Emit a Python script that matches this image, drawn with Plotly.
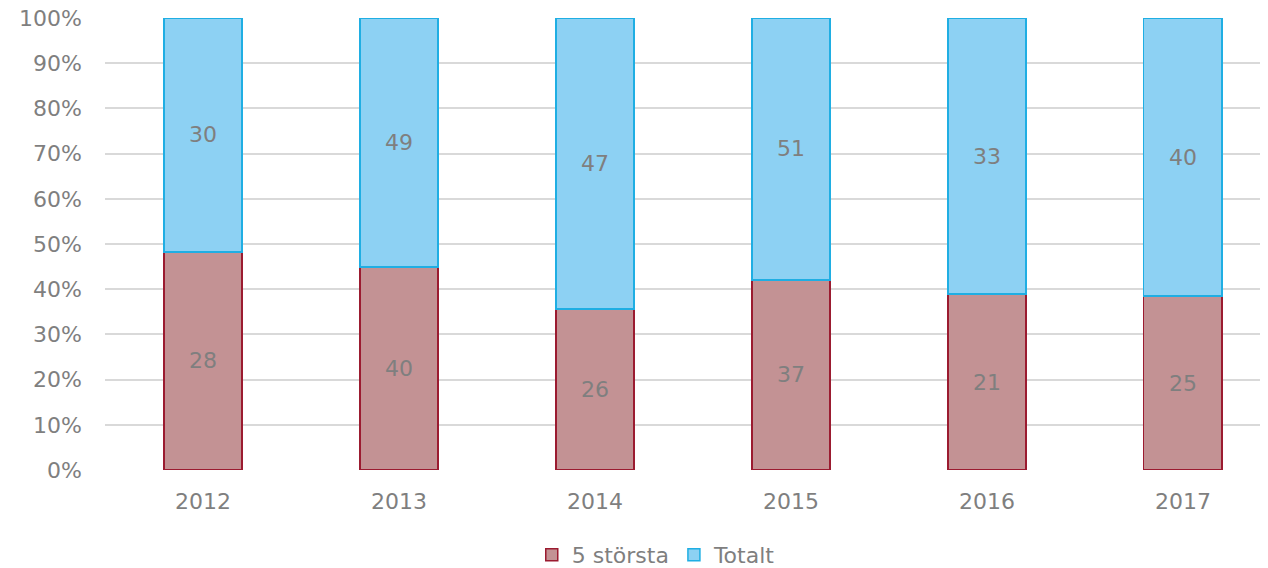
import plotly.graph_objects as go

years = ["2012", "2013", "2014", "2015", "2016", "2017"]
storsta = [28, 40, 26, 37, 21, 25]
totalt = [30, 49, 47, 51, 33, 40]
y_ticks = [0, 10, 20, 30, 40, 50, 60, 70, 80, 90, 100]
y_tick_labels = [f"{v}%" for v in y_ticks]

FONT = "DejaVu Sans"
GRAY = "#7F7F7F"
FS = 22

fig = go.Figure()
fig.add_trace(go.Bar(
    x=years, y=storsta, name="5 största",
    text=[str(v) for v in storsta], textposition="inside",
    insidetextanchor="middle", textangle=0,
    textfont=dict(family=FONT, size=FS, color=GRAY),
    marker=dict(color="#C39294", line=dict(color="#9B1B30", width=1.5)),
))
fig.add_trace(go.Bar(
    x=years, y=totalt, name="Totalt",
    text=[str(v) for v in totalt], textposition="inside",
    insidetextanchor="middle", textangle=0,
    textfont=dict(family=FONT, size=FS, color=GRAY),
    marker=dict(color="#8DD1F3", line=dict(color="#1FAEE3", width=1.5)),
))

fig.update_layout(
    width=1260, height=560,
    barmode="stack", barnorm="percent", bargap=0.6,
    paper_bgcolor="white", plot_bgcolor="white",
    margin=dict(l=97, r=0, t=10, b=98, autoexpand=False),
    font=dict(family=FONT, size=FS, color=GRAY),
    uniformtext=dict(minsize=FS, mode="show"),
    showlegend=True,
    legend=dict(orientation="h", x=0.474, xanchor="center", y=-0.188, yanchor="middle",
                font=dict(family=FONT, size=FS, color=GRAY), traceorder="normal",
                itemwidth=30),
    xaxis=dict(type="category", range=[-0.5, 5.434], showgrid=False, zeroline=False,
               showline=False, ticks="", ticklabelstandoff=16, automargin=False,
               tickfont=dict(family=FONT, size=FS, color=GRAY)),
    yaxis=dict(range=[0, 100], tickvals=y_ticks, ticktext=y_tick_labels,
               showgrid=True, gridcolor="#D9D9D9", gridwidth=1.5, zeroline=False,
               showline=False, ticks="", ticklabelstandoff=22, ticklabeloverflow="allow",
               automargin=False,
               tickfont=dict(family=FONT, size=FS, color=GRAY)),
)

fig.write_html("out.html")
